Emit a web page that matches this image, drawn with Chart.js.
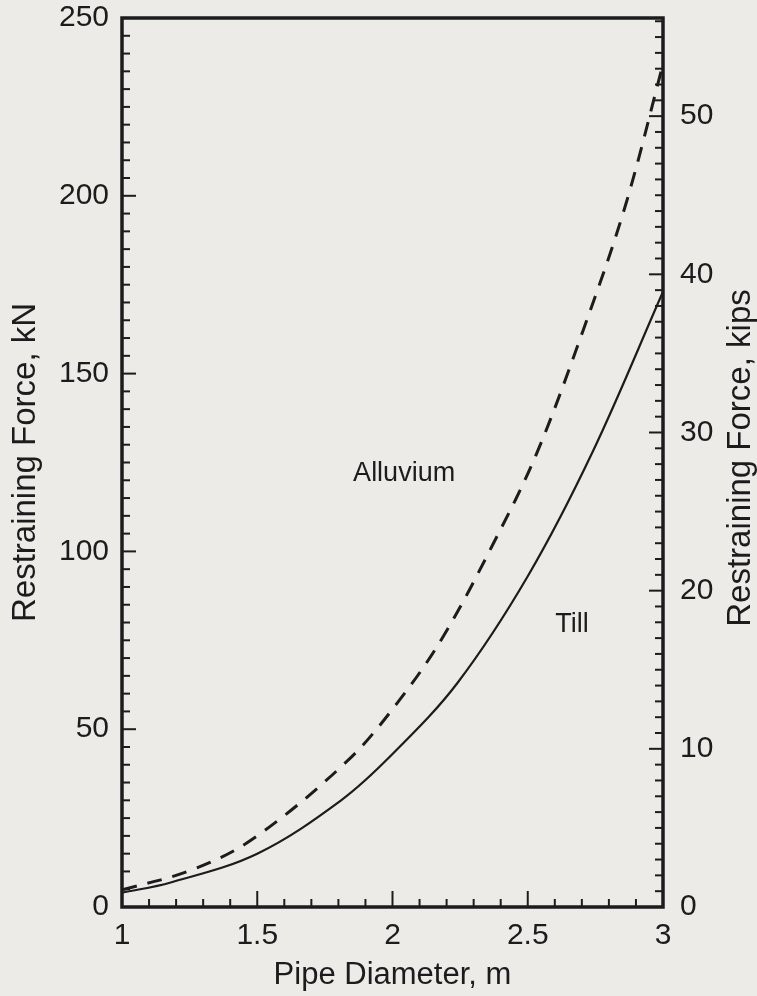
<!DOCTYPE html>
<html>
<head>
<meta charset="utf-8">
<script src="https://cdn.jsdelivr.net/npm/chart.js@4.4.1/dist/chart.umd.min.js"></script>
<style>
html,body{margin:0;padding:0;background:#ecebe8;}
#wrap{width:757px;height:996px;position:relative;}
</style>
</head>
<body>
<div id="wrap"><canvas id="c"></canvas></div>
<script>
// ---- data ----
const tillDiameter = [1.0, 1.18, 1.5, 1.81, 2.0, 2.24, 2.5, 2.74, 3.0];
const tillForce    = [4.0, 6.9, 15.0, 30.0, 43.0, 63.0, 93.0, 128.0, 173.0];

const alluviumDiameter = [1.0, 1.257, 1.483, 1.832, 2.02, 2.187, 2.37, 2.53, 2.704, 2.86, 3.0];
const alluviumForce    = [4.8, 10.4, 19.1, 41.0, 57.6, 76.0, 101.8, 127.0, 162.0, 197.0, 237.0];

const xTicks = [1, 1.5, 2, 2.5, 3];
const xTickLabels = ['1', '1.5', '2', '2.5', '3'];
const kNTicks = [0, 50, 100, 150, 200, 250];
const kNTickLabels = ['0', '50', '100', '150', '200', '250'];
const kipsTicks = [0, 10, 20, 30, 40, 50];
const kipsTickLabels = ['0', '10', '20', '30', '40', '50'];
const KN_PER_KIP = 4.448;

const xTitle = 'Pipe Diameter, m';
const leftTitle = 'Restraining Force, kN';
const rightTitle = 'Restraining Force, kips';

const noteTexts = ['Alluvium', 'Till'];
const noteDiameter = [2.043, 2.664];
const noteForce = [121.8, 79.3];

// ---- styling ----
const INK = '#1c1c1c';
const BG = '#ecebe8';
const FONT = '"Liberation Sans", Arial, Helvetica, sans-serif';

function pts(xs, ys){ return xs.map((v,i)=>({x:v, y:ys[i]})); }
function setTicks(values){ return function(scale){ scale.ticks = values.map(v=>({value:v})); }; }
function labelFrom(values, labels){ return function(v){ const i = values.indexOf(v); return i>=0 ? labels[i] : ''; }; }
function fixWidth(w){ return function(s){ s.width = w; s.paddingTop = 0; s.paddingBottom = 0; }; }

const decor = {
  id: 'decor',
  beforeDraw(chart){
    const ctx = chart.ctx;
    ctx.save();
    ctx.fillStyle = BG;
    ctx.fillRect(0,0,chart.width,chart.height);
    ctx.restore();
  },
  afterDatasetsDraw(chart){
    const {ctx, chartArea:a, scales} = chart;
    const x = scales.x, y = scales.y, y2 = scales.y2;
    ctx.save();
    ctx.strokeStyle = INK;
    ctx.lineCap = 'butt';
    // frame
    ctx.lineWidth = 3.5;
    ctx.strokeRect(a.left, a.top, a.right - a.left, a.bottom - a.top);
    ctx.lineWidth = 2;
    function seg(x1,y1,x2,y2_){ ctx.beginPath(); ctx.moveTo(x1,y1); ctx.lineTo(x2,y2_); ctx.stroke(); }
    // bottom ticks every 0.1
    for (let i=0;i<=20;i++){
      const px = x.getPixelForValue(1 + i*0.1);
      seg(px, a.bottom, px, a.bottom - (i%5===0 ? 16 : 8));
    }
    // left ticks every 5 kN
    for (let i=0;i<=50;i++){
      const py = y.getPixelForValue(i*5);
      seg(a.left, py, a.left + (i%10===0 ? 14 : 8), py);
    }
    // right ticks every 1 kip
    for (let i=0;i<=56;i++){
      const py = y2.getPixelForValue(i);
      seg(a.right, py, a.right - (i%10===0 ? 14 : 8), py);
    }
    // notes
    ctx.fillStyle = INK;
    ctx.font = '27px ' + FONT;
    ctx.textAlign = 'center';
    ctx.textBaseline = 'middle';
    noteTexts.forEach((t,i)=>ctx.fillText(t, x.getPixelForValue(noteDiameter[i]), y.getPixelForValue(noteForce[i])));
    // right title (reads bottom to top)
    ctx.translate(741, 458);
    ctx.rotate(-Math.PI/2);
    ctx.font = '33px ' + FONT;
    ctx.fillText(rightTitle, 0, 0);
    ctx.restore();
  }
};

new Chart(document.getElementById('c'), {
  type: 'line',
  data: {
    datasets: [
      {
        label: 'Alluvium',
        data: pts(alluviumDiameter, alluviumForce),
        borderColor: INK,
        borderWidth: 3,
        borderDash: [15, 11],
        pointRadius: 0,
        tension: 0.35,
        fill: false,
        yAxisID: 'y'
      },
      {
        label: 'Till',
        data: pts(tillDiameter, tillForce),
        borderColor: INK,
        borderWidth: 2.2,
        pointRadius: 0,
        tension: 0.35,
        fill: false,
        yAxisID: 'y'
      }
    ]
  },
  options: {
    responsive: true,
    maintainAspectRatio: false,
    animation: false,
    events: [],
    layout: { padding: { top: 18, left: 0, right: 0, bottom: 0 } },
    plugins: { legend: { display: false }, tooltip: { enabled: false } },
    scales: {
      x: {
        type: 'linear',
        min: 1, max: 3,
        afterBuildTicks: setTicks(xTicks),
        afterFit(s){ s.height = 89; s.paddingLeft = 0; s.paddingRight = 0; },
        grid: { display: false, drawTicks: false },
        border: { display: false },
        ticks: { callback: labelFrom(xTicks, xTickLabels), color: INK, font: { family: FONT, size: 30 }, padding: 11, maxRotation: 0, autoSkip: false },
        title: { display: true, text: xTitle, color: INK, font: { family: FONT, size: 31 }, padding: { top: 0, bottom: 2 } }
      },
      y: {
        type: 'linear',
        position: 'left',
        min: 0, max: 250,
        afterBuildTicks: setTicks(kNTicks),
        afterFit: fixWidth(122),
        grid: { display: false, drawTicks: false },
        border: { display: false },
        ticks: { callback: labelFrom(kNTicks, kNTickLabels), color: INK, font: { family: FONT, size: 30 }, padding: 13, autoSkip: false },
        title: { display: true, text: leftTitle, color: INK, font: { family: FONT, size: 33 }, padding: { top: 6, bottom: 0 } }
      },
      y2: {
        type: 'linear',
        position: 'right',
        min: 0, max: 250 / KN_PER_KIP,
        afterBuildTicks: setTicks(kipsTicks),
        afterFit: fixWidth(94),
        grid: { display: false, drawTicks: false },
        border: { display: false },
        ticks: { callback: labelFrom(kipsTicks, kipsTickLabels), color: INK, font: { family: FONT, size: 30 }, padding: 17, autoSkip: false }
      }
    }
  },
  plugins: [decor]
});
</script>
</body>
</html>
